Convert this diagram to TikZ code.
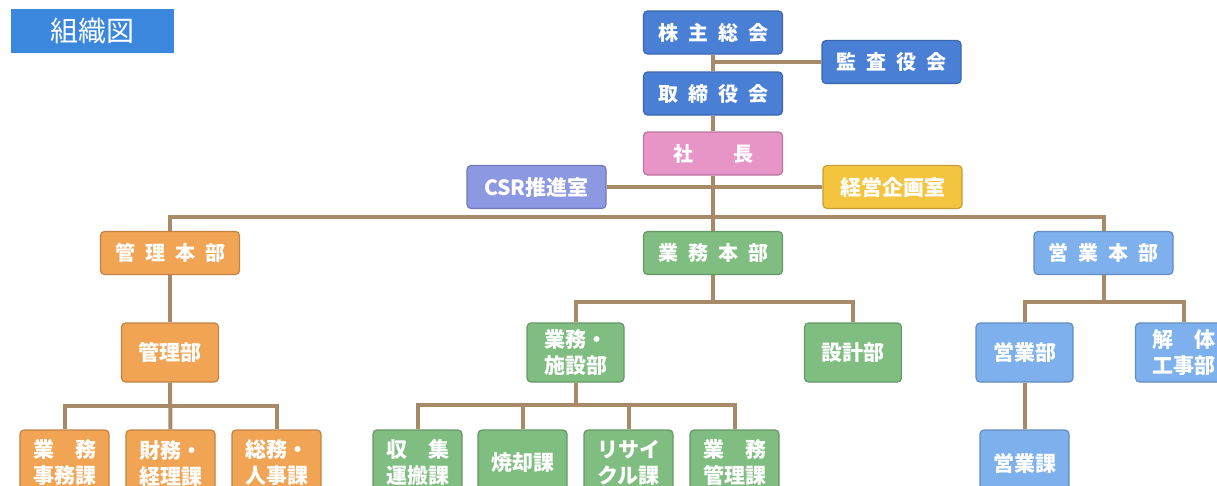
\documentclass[tikz,border=0pt]{standalone}
\usepackage{fontspec}
\setmainfont{Noto Sans CJK JP}
\definecolor{titleblue}{HTML}{3B87DD}
\definecolor{topblue}{HTML}{4A7FD6}
\definecolor{pinkc}{HTML}{E794C6}
\definecolor{lavc}{HTML}{8D98E2}
\definecolor{yellowc}{HTML}{F5C540}
\definecolor{orangec}{HTML}{F1A454}
\definecolor{greenc}{HTML}{7FBD80}
\definecolor{lblue}{HTML}{7DB0EC}
\definecolor{linec}{HTML}{A98A68}
\def\gap{\hspace{0.5em}}

\begin{document}
\begin{tikzpicture}[x=1pt, y=-1pt]
        \tikzstyle{box}   = [rectangle, rounded corners=4pt, line width=1.2pt, inner sep=0pt, text=white,
                             align=center, font=\fontsize{21}{26}\selectfont\bfseries]
        \tikzstyle{wide}  = [box, minimum width=139pt, minimum height=43pt, font=\fontsize{20}{24}\selectfont\bfseries]
        \tikzstyle{mid}   = [box, minimum width=97pt, minimum height=59pt]
        \tikzstyle{small} = [box, minimum width=89pt, minimum height=66pt]
        \tikzstyle{conn}  = [draw=linec, line width=4pt]

        \clip (0,0) rectangle (1217,485);

        % title
        \node [fill=titleblue, minimum width=163pt, minimum height=44pt, inner sep=0pt, text=white,
               font=\fontsize{28}{30}\selectfont](title) at (92.5, 31) {組織図};

        % top
        \node [wide, fill=topblue, draw=topblue!80!black](kabu) at (713, 32.5) {株\gap 主\gap 総\gap 会};
        \node [wide, fill=topblue, draw=topblue!80!black](kansa) at (891.5, 62) {監\gap 査\gap 役\gap 会};
        \node [wide, fill=topblue, draw=topblue!80!black](tori) at (713, 93.5) {取\gap 締\gap 役\gap 会};
        \node [wide, fill=pinkc, draw=pinkc!80!black](shacho) at (713, 153.5) {社\hspace{2em}長};
        \node [wide, fill=lavc, draw=lavc!80!black, font=\fontsize{21}{24}\selectfont\bfseries](csr) at (536.5, 187) {CSR推進室};
        \node [wide, fill=yellowc, draw=yellowc!80!black, font=\fontsize{21}{24}\selectfont\bfseries](keiei) at (892.5, 187) {経営企画室};

        \coordinate (bus) at (713, 217);

        % headquarters
        \node [wide, fill=orangec, draw=orangec!80!black](kanrihon) at (170, 253) {管\gap 理\gap 本\gap 部};
        \node [wide, fill=greenc, draw=greenc!80!black](gyomuhon) at (713, 253) {業\gap 務\gap 本\gap 部};
        \node [wide, fill=lblue, draw=lblue!80!black](eigyohon) at (1103.5, 253) {営\gap 業\gap 本\gap 部};

        % departments
        \node [mid, fill=orangec, draw=orangec!80!black](kanribu) at (170, 352.5) {管理部};
        \node [mid, fill=greenc, draw=greenc!80!black](shisetsu) at (575.5, 352.5) {業務・\\施設部};
        \node [mid, fill=greenc, draw=greenc!80!black](sekkei) at (853, 352.5) {設計部};
        \node [mid, fill=lblue, draw=lblue!80!black](eigyobu) at (1024.5, 352.5) {営業部};
        \node [mid, fill=lblue, draw=lblue!80!black](kaitai) at (1184, 352.5) {解\hspace{1em}体\\工事部};

        % sections
        \foreach \name/\x/\txt in {jimu/64.5/{業\hspace{1em}務\\事務課}, keiri/170.5/{財務・\\経理課}, jinji/276.5/{総務・\\人事課}}
                \node [small, fill=orangec, draw=orangec!80!black](\name) at (\x, 463) {\txt};
        \foreach \name/\x/\txt in {shushu/417.5/{収\hspace{1em}集\\運搬課}, shokyaku/522.5/{焼却課}, recycle/628.5/{リサイ\\クル課}, gkanri/734.5/{業\hspace{1em}務\\管理課}}
                \node [small, fill=greenc, draw=greenc!80!black](\name) at (\x, 463) {\txt};
        \node [small, fill=lblue, draw=lblue!80!black](eigyoka) at (1024.5, 463) {営業課};

        \coordinate (kbus) at (170, 406);
        \coordinate (gbus) at (713, 302);
        \coordinate (sbus) at (575.5, 405);
        \coordinate (ebus) at (1103.5, 302);

        % connectors
        \draw [conn] (kabu.south) -- (tori.north);
        \draw [conn] (kansa.west) -- (kansa.west -| kabu.south);
        \draw [conn] (tori.south) -- (shacho.north);
        \draw [conn] (shacho.south) -- (bus);
        \draw [conn] (csr.east) -- (keiei.west);
        \draw [conn] (kanrihon.north) |- (bus) -| (eigyohon.north);
        \draw [conn] (bus) -- (gyomuhon.north);

        \draw [conn] (kanrihon.south) -- (kanribu.north);
        \draw [conn] (kanribu.south) -- (keiri.north);
        \draw [conn] (jimu.north) |- (kbus) -| (jinji.north);

        \draw [conn] (gyomuhon.south) -- (gbus);
        \draw [conn] (shisetsu.north) |- (gbus) -| (sekkei.north);
        \draw [conn] (shisetsu.south) -- (sbus);
        \draw [conn] (shushu.north) |- (sbus) -| (gkanri.north);
        \draw [conn] (shokyaku.north) -- (shokyaku.north |- sbus);
        \draw [conn] (recycle.north) -- (recycle.north |- sbus);

        \draw [conn] (eigyohon.south) -- (ebus);
        \draw [conn] (eigyobu.north) |- (ebus) -| (kaitai.north);
        \draw [conn] (eigyobu.south) -- (eigyoka.north);
\end{tikzpicture}
\end{document}
